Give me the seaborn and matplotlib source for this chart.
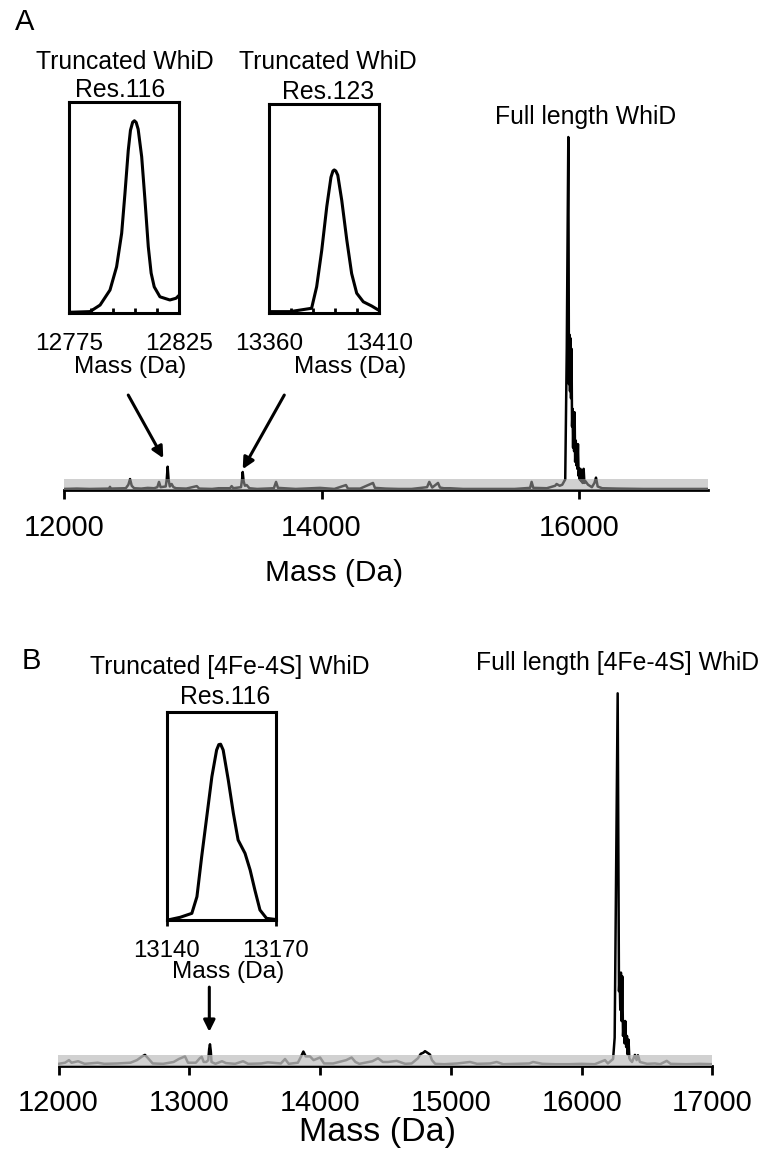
import numpy as np
import pandas as pd
import matplotlib
matplotlib.use("Agg")
import matplotlib.pyplot as plt
import seaborn as sns

# ---------------- data ----------------
# Panel A: deconvoluted spectrum (mass in Da, relative intensity, main peak = 100)
massA = [12000, 12100, 12200, 12350, 12357, 12364, 12480, 12500, 12513, 12526, 12545,
         12600, 12650, 12700, 12725, 12738, 12750, 12790, 12798, 12805, 12812, 12822,
         12836, 12850, 12870, 12950, 13031, 13050, 13150, 13200, 13290, 13302, 13315,
         13375, 13383, 13388, 13395, 13405, 13419, 13440, 13500, 13630, 13647, 13662,
         13800, 13988, 14100, 14190, 14205, 14300, 14400, 14415, 14500, 14600, 14700,
         14820, 14837, 14860, 14905, 14920, 14950, 15000, 15100, 15300, 15500, 15620,
         15632, 15645, 15750, 15815, 15826, 15850, 15870, 15893, 15905, 15917, 15922,
         15926, 15930, 15934, 15938, 15942, 15946, 15950, 15954, 15958, 15962, 15966,
         15970, 15975, 15979, 15983, 15987, 15992, 15997, 16002, 16006, 16011, 16016,
         16022, 16028, 16036, 16042, 16050, 16070, 16100, 16120, 16132, 16145, 16180,
         16300, 16500, 16700, 16900, 17000]
intA = [0.3, 0.4, 0.3, 0.4, 0.9, 0.4, 0.5, 1.5, 3.1, 1.2, 0.5,
        0.4, 0.6, 0.5, 0.8, 2.3, 0.8, 1.0, 3.0, 6.6, 3.0, 1.0,
        1.7, 0.8, 0.5, 0.4, 1.1, 0.4, 0.3, 0.5, 0.5, 1.1, 0.5,
        0.8, 3.0, 5.1, 2.5, 1.2, 1.4, 0.5, 0.3, 0.5, 2.3, 0.6,
        0.3, 0.6, 0.3, 1.4, 0.4, 0.4, 2.0, 0.6, 0.4, 0.3, 0.3,
        0.8, 2.3, 0.7, 2.0, 0.7, 0.5, 0.5, 0.3, 0.3, 0.3, 0.6,
        2.3, 0.6, 0.5, 1.2, 1.7, 1.2, 1.5, 3.0, 40, 100, 30,
        44, 28, 43, 26, 40, 18, 23, 12, 22, 11, 22,
        8, 14, 7, 13, 6, 13, 4, 6, 3, 6, 2.5,
        5, 2, 6, 2, 2.5, 1.5, 0.8, 2.0, 3.5, 1.0, 0.5,
        0.4, 0.3, 0.3, 0.3, 0.3]

# Panel B: [4Fe-4S] WhiD spectrum
massB = [12000, 12050, 12080, 12100, 12150, 12200, 12300, 12350, 12450, 12550, 12600,
         12640, 12661, 12690, 12720, 12800, 12880, 12920, 12967, 12990, 13050, 13080,
         13095, 13110, 13130, 13145, 13152, 13158, 13164, 13170, 13200, 13250, 13280,
         13350, 13411, 13450, 13550, 13600, 13700, 13732, 13760, 13830, 13855, 13872,
         13890, 13923, 13950, 14000, 14030, 14100, 14200, 14241, 14270, 14300, 14400,
         14443, 14480, 14520, 14585, 14650, 14700, 14748, 14770, 14790, 14802, 14815,
         14840, 14855, 14880, 14950, 15050, 15146, 15200, 15300, 15350, 15400, 15500,
         15600, 15628, 15700, 15800, 15900, 16000, 16100, 16178, 16200, 16240, 16252,
         16275, 16285, 16290, 16295, 16300, 16305, 16310, 16316, 16322, 16328, 16333,
         16340, 16346, 16352, 16358, 16364, 16372, 16385, 16407, 16420, 16430, 16445,
         16500, 16560, 16600, 16650, 16680, 16800, 16900, 17000]
intB = [0.5, 0.8, 1.5, 0.8, 1.2, 0.5, 0.8, 0.5, 0.6, 0.8, 1.5,
        2.5, 2.9, 1.8, 0.6, 0.5, 1.0, 1.8, 2.5, 0.8, 0.8, 2.0,
        2.4, 1.0, 1.0, 1.5, 4.5, 5.75, 4.0, 1.0, 0.5, 1.2, 0.7,
        0.5, 1.2, 0.5, 0.6, 0.9, 0.6, 1.8, 0.5, 0.8, 2.5, 3.8,
        2.5, 2.5, 1.5, 2.2, 0.6, 0.6, 1.5, 2.2, 1.0, 0.5, 1.2,
        2.0, 1.0, 1.0, 1.3, 0.5, 0.6, 2.0, 3.2, 3.5, 3.9, 3.6,
        3.0, 1.5, 0.5, 0.4, 0.6, 1.0, 0.5, 0.6, 1.0, 0.4, 0.5,
        0.6, 1.0, 0.5, 0.4, 0.4, 0.5, 0.4, 1.5, 0.6, 1.8, 7.5,
        100, 20, 24, 15, 25, 12, 24, 8, 12, 6, 12,
        5, 8, 3, 7, 2, 1.5, 1.0, 2.9, 1.5, 2.8, 1.0,
        0.5, 0.6, 0.4, 1.3, 0.5, 0.4, 0.5, 0.4]

# Insets (zoomed peaks, relative intensity in inset box)
massI1 = [12775.6, 12784.4, 12789.0, 12793.5, 12796.5, 12798.8, 12800.3, 12801.8, 12802.8,
          12803.8, 12804.6, 12805.4, 12806.3, 12807.9, 12809.4, 12810.9, 12812.2, 12813.6,
          12816.2, 12820.7, 12823.5, 12825.0]
intI1 = [0.5, 0.8, 3.9, 11, 22, 37.8, 56.7, 77, 86.5,
         90.3, 91, 90.2, 87, 74, 53.5, 31.5, 19, 12.5,
         7.8, 6.3, 7.1, 8.6]

massI2 = [13360.3, 13369.7, 13379.5, 13381.8, 13384.1, 13386.4, 13388.3, 13389.2, 13389.8,
          13390.5, 13391.4, 13393.2, 13395.5, 13397.7, 13400.0, 13403.0, 13406.8, 13409.8]
intI2 = [0.8, 0.8, 2.4, 12.7, 30, 51, 65, 68, 68.5,
         68, 66, 54, 35, 19, 9.6, 5.5, 3.5, 1.6]

massI3 = [13140.3, 13143.7, 13146.9, 13148.3, 13149.6, 13151.0, 13152.4, 13153.7, 13154.3,
          13154.8, 13155.5, 13156.9, 13158.3, 13159.6, 13161.5, 13162.9, 13164.2, 13165.6,
          13167.4, 13169.7]
intI3 = [0.0, 1.3, 3.2, 11.2, 30.4, 49.6, 68.8, 81.6, 84.2,
         84.4, 81.6, 67.2, 51.2, 38.4, 32, 24, 14.4, 4.8,
         0.8, 0.3]

ticksA = [12000, 14000, 16000]
ticksB = [12000, 13000, 14000, 15000, 16000, 17000]

# ---------------- style ----------------
sns.set_theme(style="white")
plt.rcParams['font.family'] = ['Liberation Sans', 'DejaVu Sans']
plt.rcParams['text.color'] = 'black'
plt.rcParams['axes.labelcolor'] = 'black'
plt.rcParams['xtick.color'] = 'black'
plt.rcParams['xtick.labelcolor'] = 'black'

W, H = 763, 1151
fig = plt.figure(figsize=(W / 100, H / 100), dpi=100)


def rect(l, t, r, b):
    return [l / W, 1 - b / H, (r - l) / W, (b - t) / H]


def main_axes(ax, ticks, pad, band_color, band_alpha):
    for s in ['left', 'top', 'right']:
        ax.spines[s].set_visible(False)
    ax.spines['bottom'].set_linewidth(2.0)
    ax.spines['bottom'].set_color('black')
    ax.set_xlim(12000, 17000)
    ax.set_ylim(0, 105)
    ax.set_yticks([])
    ax.set_xticks(ticks)
    ax.set_xticklabels([str(t) for t in ticks])
    ax.tick_params(axis='x', direction='out', length=6.5, width=2, color='black',
                   labelcolor='black', labelsize=21, pad=pad, bottom=True)
    ax.axhspan(0, 3.0, color=band_color, alpha=band_alpha, lw=0, zorder=5)
    ax.set_ylabel('')


# ---------------- Panel A ----------------
axA = fig.add_axes(rect(64, 119.4, 707.75, 490))
sns.lineplot(x=massA, y=intA, ax=axA, color='black', lw=1.8, estimator=None, sort=False)
main_axes(axA, ticksA, 11.0, '#a8a8a8', 0.54)
axA.set_xlabel('Mass (Da)', fontsize=21.5, color='black')
axA.xaxis.label.set_va('center')
axA.xaxis.set_label_coords(0.419, -0.225)

axA.annotate('', xy=(12771, 9.0), xytext=(12499, 26.9), xycoords='data',
             arrowprops=dict(arrowstyle='-|>', lw=2.2, color='black',
                             mutation_scale=17, shrinkA=0, shrinkB=0),
             annotation_clip=False)
axA.annotate('', xy=(13388, 5.9), xytext=(13711, 26.9), xycoords='data',
             arrowprops=dict(arrowstyle='-|>', lw=2.2, color='black',
                             mutation_scale=17, shrinkA=0, shrinkB=0),
             annotation_clip=False)

# ---------------- Panel B ----------------
axB = fig.add_axes(rect(58.5, 674.7, 712.5, 1065.7))
sns.lineplot(x=massB, y=intB, ax=axB, color='black', lw=1.8, estimator=None, sort=False)
main_axes(axB, ticksB, 10.5, '#c3c3c3', 0.77)
axB.set_xlabel('Mass (Da)', fontsize=24.5, color='black')
axB.xaxis.label.set_va('center')
axB.xaxis.set_label_coords(0.4885, -0.172)

axB.annotate('', xy=(13153, 9.1), xytext=(13153, 21.1), xycoords='data',
             arrowprops=dict(arrowstyle='-|>', lw=2.2, color='black',
                             mutation_scale=17, shrinkA=0, shrinkB=0),
             annotation_clip=False)


# ---------------- Insets ----------------
def inset(box, mx, my, xlim, minor, title, res, tpos, rpos, mpos, outward):
    ax = fig.add_axes(rect(*box))
    sns.lineplot(x=mx, y=my, ax=ax, color='black', lw=2.2, estimator=None, sort=False)
    ax.set_xlim(*xlim)
    ax.set_ylim(0, 100)
    ax.set_yticks([])
    for s in ax.spines.values():
        s.set_visible(True)
        s.set_linewidth(2.2)
        s.set_color('black')
    ax.set_xticks(list(xlim))
    ax.set_xticklabels([str(x) for x in xlim])
    if outward:
        ax.tick_params(axis='x', which='major', direction='out', length=4.5, width=2,
                       color='black', labelcolor='black', labelsize=17.3, pad=9.6,
                       bottom=True)
    else:
        ax.tick_params(axis='x', which='major', direction='in', length=0,
                       labelcolor='black', labelsize=17.6, pad=14.4, bottom=True)
    if minor:
        ax.set_xticks(minor, minor=True)
        ax.tick_params(axis='x', which='minor', direction='in', length=3.6, width=2,
                       color='black', bottom=True)
    ax.set_xlabel('')
    ax.set_ylabel('')
    ax.text(tpos[0], tpos[1], title, transform=ax.transAxes, ha='center', va='center',
            fontsize=17.8, color='black')
    ax.text(rpos[0], rpos[1], res, transform=ax.transAxes, ha='center', va='center',
            fontsize=17.8, color='black')
    ax.text(mpos[0], mpos[1], 'Mass (Da)', transform=ax.transAxes, ha='center',
            va='center', fontsize=17.6, color='black')
    return ax


inset((69.3, 101.7, 179.3, 313.3), massI1, intI1, (12775, 12825),
      [12785, 12795, 12805, 12815], 'Truncated WhiD', 'Res.116',
      (0.506, 1.188), (0.461, 1.055), (0.552, -0.254), False)
inset((268.7, 104, 378.7, 313.3), massI2, intI2, (13360, 13410),
      [13370, 13380, 13390, 13400], 'Truncated WhiD', 'Res.123',
      (0.539, 1.200), (0.539, 1.057), (0.739, -0.257), False)
inset((166.7, 711.7, 276, 920), massI3, intI3, (13140, 13170),
      None, 'Truncated [4Fe-4S] WhiD', 'Res.116',
      (0.579, 1.216), (0.533, 1.072), (0.561, -0.248), True)

# ---------------- free labels ----------------
fig.text(25 / W, 1 - 22 / H, 'A', ha='center', va='center', fontsize=21, color='black')
fig.text(31 / W, 1 - 661 / H, 'B', ha='center', va='center', fontsize=21, color='black')
fig.text(585.8 / W, 1 - 116.7 / H, 'Full length WhiD', ha='center', va='center',
         fontsize=17.8, color='black')
fig.text(617 / W, 1 - 663 / H, 'Full length [4Fe-4S] WhiD', ha='center', va='center',
         fontsize=17.8, color='black')

fig.savefig('out.png', dpi=100)
